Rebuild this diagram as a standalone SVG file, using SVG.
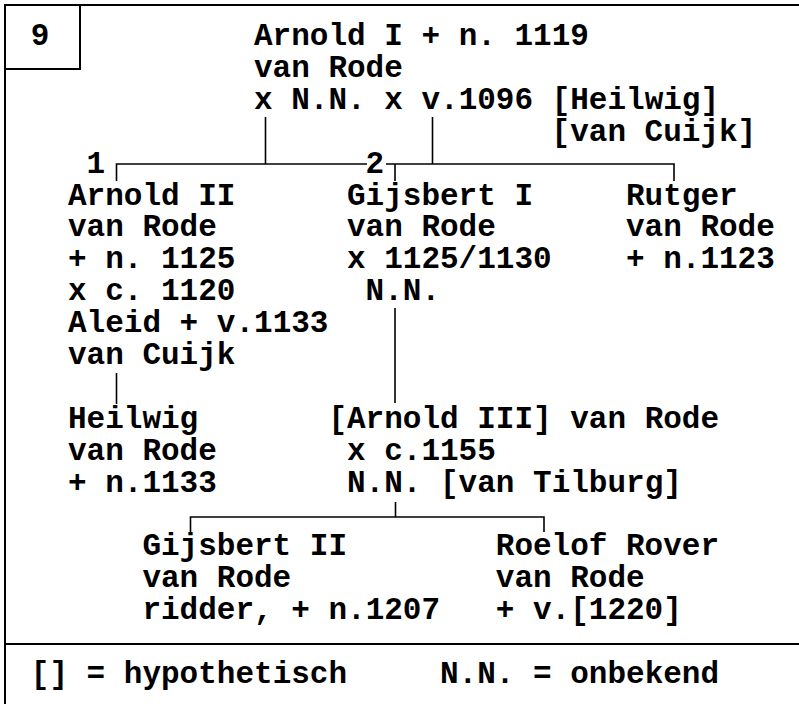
<svg xmlns="http://www.w3.org/2000/svg" width="799" height="704" viewBox="0 0 799 704">
<style>
text{font-family:"Liberation Mono","Courier New",monospace;font-weight:bold;font-size:31px;fill:#000}
.ln{stroke:#000;stroke-width:1.6;fill:none}
.fr{stroke:#000;stroke-width:2;fill:none}
</style>
<rect width="799" height="704" fill="#fff"/>
<g id="frame">
<path class="fr" d="M5,705 V5 H800"/>
<path class="fr" d="M5,69 H80 V5"/>
<path class="fr" d="M5,644 H800"/>
</g>
<g id="connectors">
<path class="ln" d="M265.5,117 V164 M432.5,117 V164 M116.5,181 V164 H367 M386,164 H674 V181 M395,164 V181"/>
<path class="ln" d="M395,308 V403"/>
<path class="ln" d="M116.5,373 V404"/>
<path class="ln" d="M395.5,502 V517 M190.5,532 V517 H544 V532"/>
</g>
<g id="n9"><text x="30.8" y="45">9</text></g>
<g id="arnold1"><text x="254.0" y="45">Arnold I + n. 1119<tspan x="254.0" dy="31.9">van Rode</tspan><tspan x="254.0" dy="31.9">x N.N. x v.1096 [Heilwig]</tspan><tspan x="551.6" dy="31.9">[van Cuijk]</tspan></text></g>
<g id="label1"><text x="86.6" y="172.6">1</text></g>
<g id="label2"><text x="365.6" y="172.6">2</text></g>
<g id="arnold2"><text x="68" y="204.5">Arnold II<tspan x="68" dy="31.9">van Rode</tspan><tspan x="68" dy="31.9">+ n. 1125</tspan><tspan x="68" dy="31.9">x c. 1120</tspan><tspan x="68" dy="31.9">Aleid + v.1133</tspan><tspan x="68" dy="31.9">van Cuijk</tspan></text></g>
<g id="gijsbert1"><text x="347" y="204.5">Gijsbert I<tspan x="347" dy="31.9">van Rode</tspan><tspan x="347" dy="31.9">x 1125/1130</tspan><tspan x="365.6" dy="31.9">N.N.</tspan></text></g>
<g id="rutger"><text x="626" y="204.5">Rutger<tspan x="626" dy="31.9">van Rode</tspan><tspan x="626" dy="31.9">+ n.1123</tspan></text></g>
<g id="heilwig"><text x="68" y="427.8">Heilwig<tspan x="68" dy="31.9">van Rode</tspan><tspan x="68" dy="31.9">+ n.1133</tspan></text></g>
<g id="arnold3"><text x="328.4" y="427.8">[Arnold III] van Rode<tspan x="347" dy="31.9">x c.1155</tspan><tspan x="347" dy="31.9">N.N. [van Tilburg]</tspan></text></g>
<g id="gijsbert2"><text x="142.4" y="555.4">Gijsbert II<tspan x="142.4" dy="31.9">van Rode</tspan><tspan x="142.4" dy="31.9">ridder, + n.1207</tspan></text></g>
<g id="roelof"><text x="495.8" y="555.4">Roelof Rover<tspan x="495.8" dy="31.9">van Rode</tspan><tspan x="495.8" dy="31.9">+ v.[1220]</tspan></text></g>
<g id="legend"><text x="30.8" y="683">[] = hypothetisch</text><text x="440" y="683">N.N. = onbekend</text></g>
</svg>
